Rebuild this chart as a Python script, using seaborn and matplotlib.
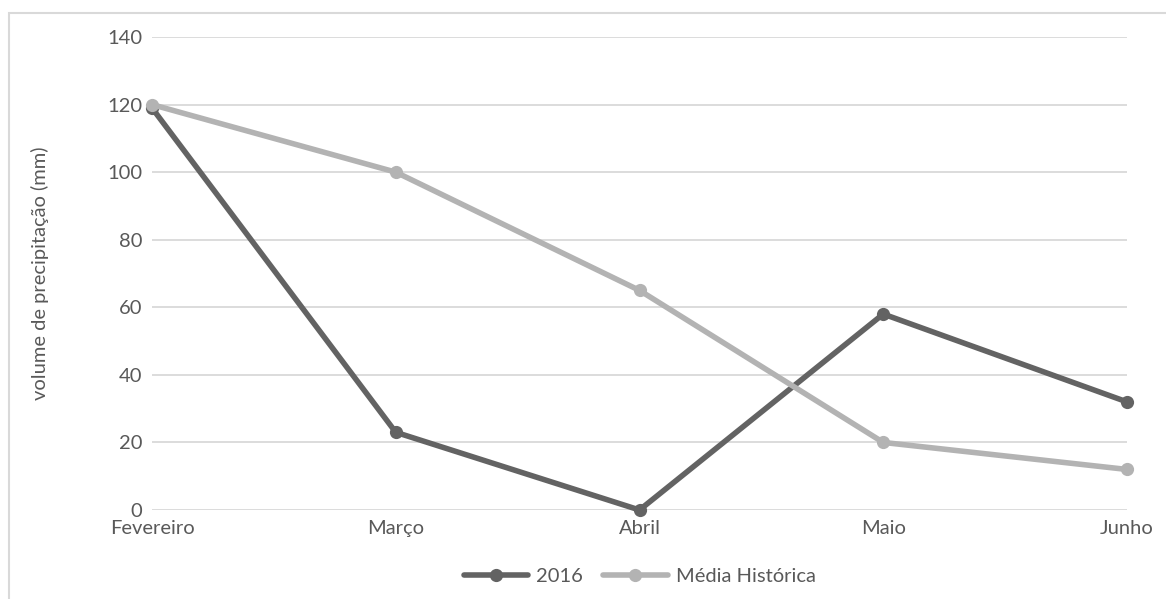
import matplotlib.pyplot as plt
import matplotlib.patches as mpatches
import seaborn as sns
import pandas as pd

months = ["Fevereiro", "Março", "Abril", "Maio", "Junho"]
vals_2016 = [119, 23, 0, 58, 32]
vals_media = [120, 100, 65, 20, 12]
series_names = ["2016", "Média Histórica"]

sns.set_theme(style="white")
plt.rcParams['font.family'] = ['Lato', 'DejaVu Sans']

df = pd.DataFrame({
    "pos": list(range(len(months))) * 2,
    "valor": vals_2016 + vals_media,
    "serie": [series_names[0]] * len(months) + [series_names[1]] * len(months),
})

text_color = "#595959"
fs = 14.5
fig = plt.figure(figsize=(11.66, 5.99), dpi=100)
ax = fig.add_axes([152 / 1166, 1 - 510 / 599, (1127 - 152) / 1166, (510 - 37) / 599])

sns.lineplot(data=df, x="pos", y="valor", hue="serie",
             palette={"2016": "#636363", "Média Histórica": "#b3b3b3"},
             marker="o", markersize=9.5, markeredgewidth=0, linewidth=4,
             ax=ax, zorder=3)
for ln in ax.lines:
    ln.set_clip_on(False)

ax.set_xlim(0, len(months) - 1)
ax.set_ylim(0, 140)
ax.set_yticks(range(0, 141, 20))
ax.set_xticks(range(len(months)))
ax.set_xticklabels(months)
ax.grid(axis="y", color="#d9d9d9", linewidth=1.3)
ax.set_axisbelow(True)
for s in ax.spines.values():
    s.set_visible(False)
ax.tick_params(axis="both", length=0, labelsize=fs, colors=text_color)
ax.tick_params(axis="x", pad=7)
ax.tick_params(axis="y", pad=7)
ax.set_xlabel("")
ax.set_ylabel("volume de precipitação (mm)", fontsize=fs, color=text_color, labelpad=42)

leg = ax.legend(loc="upper center", bbox_to_anchor=(0.5, -0.085), ncol=2, frameon=False,
                fontsize=fs, handlelength=3.2, columnspacing=1.0, handletextpad=0.4)
for t in leg.get_texts():
    t.set_color(text_color)

border = mpatches.Rectangle((9 / 1166, -0.1), 1.2, 1 - 13 / 599 + 0.1, transform=fig.transFigure,
                            fill=False, edgecolor="#d9d9d9", linewidth=1.5)
fig.patches.append(border)

fig.savefig("out.png", dpi=100)
plt.close(fig)
